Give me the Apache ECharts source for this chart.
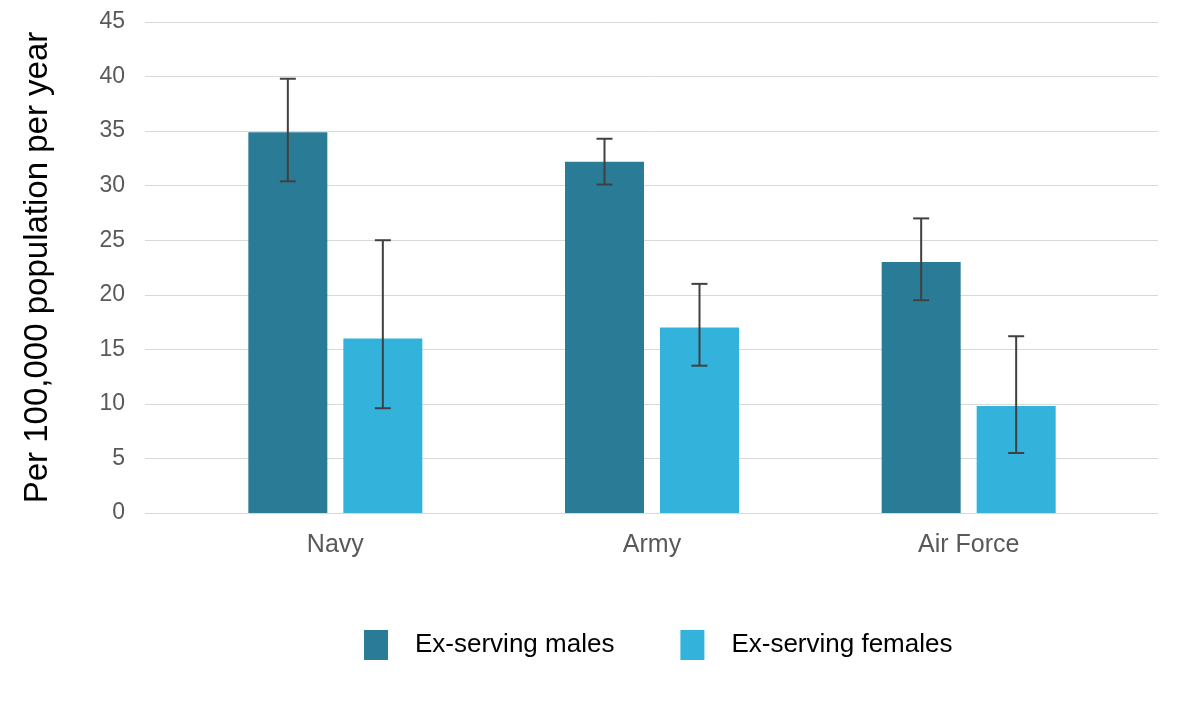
<!DOCTYPE html>
<html>
<head>
<meta charset="utf-8">
<script src="https://cdn.jsdelivr.net/npm/echarts@6/dist/echarts.min.js"></script>
<style>
  html, body { margin: 0; padding: 0; background: #fff; }
  #chart { width: 1181px; height: 708px; }
</style>
</head>
<body>
<div id="chart"></div>
<script>
const categories = ['Navy', 'Army', 'Air Force'];
const males = [34.9, 32.2, 23.0];
const malesLow = [30.4, 30.1, 19.5];
const malesHigh = [39.8, 34.3, 27.0];
const females = [16.0, 17.0, 9.8];
const femalesLow = [9.6, 13.5, 5.5];
const femalesHigh = [25.0, 21.0, 16.2];

const BAR_W = 79;
const BAR_GAP = 16;
const font = '"Liberation Sans", Arial, sans-serif';

// error bars drawn on the bars' own axes, shifted to the bar centre
function errorSeries(name, low, high, offset) {
  return {
    type: 'custom',
    name: name,
    xAxisIndex: 1,
    yAxisIndex: 1,
    z: 5,
    silent: true,
    data: categories.map((c, i) => [i, low[i], high[i]]),
    renderItem: function (params, api) {
      const lo = api.coord([api.value(0), api.value(1)]);
      const hi = api.coord([api.value(0), api.value(2)]);
      const x = lo[0] + offset;
      const cap = 8;
      const style = { stroke: '#404040', lineWidth: 2 };
      return {
        type: 'group',
        children: [
          { type: 'line', shape: { x1: x, y1: hi[1], x2: x, y2: lo[1] }, style: style },
          { type: 'line', shape: { x1: x - cap, y1: hi[1], x2: x + cap, y2: hi[1] }, style: style },
          { type: 'line', shape: { x1: x - cap, y1: lo[1], x2: x + cap, y2: lo[1] }, style: style }
        ]
      };
    }
  };
}

const chart = echarts.init(document.getElementById('chart'));
const shift = (BAR_W + BAR_GAP) / 2;

chart.setOption({
  backgroundColor: '#fff',
  animation: false,
  grid: [
    // background: gridlines + value labels
    { left: 145, right: 23, top: 22, bottom: 195 },
    // bars
    { left: 177, right: 54, top: 22, bottom: 195 }
  ],
  legend: {
    bottom: 43,
    left: 359,
    itemWidth: 24,
    itemHeight: 30,
    itemGap: 66,
    icon: 'rect',
    textStyle: { fontFamily: font, fontSize: 26, color: '#000', padding: [0, 0, 0, 22] },
    data: ['Ex-serving males', 'Ex-serving females']
  },
  xAxis: [
    { type: 'value', gridIndex: 0, show: false, min: 0, max: 1 },
    {
      type: 'category',
      gridIndex: 1,
      data: categories,
      axisLine: { show: false },
      axisTick: { show: false },
      axisLabel: { fontFamily: font, fontSize: 25, color: '#595959', margin: 20 }
    }
  ],
  yAxis: [
    {
      type: 'value',
      gridIndex: 0,
      min: 0,
      max: 45,
      interval: 5,
      name: 'Per 100,000 population per year',
      nameLocation: 'middle',
      nameGap: 91,
      nameTextStyle: { fontFamily: font, fontSize: 33, color: '#000' },
      axisLine: { show: false },
      axisTick: { show: false },
      axisLabel: { fontFamily: font, fontSize: 23, color: '#595959', margin: 20 },
      splitLine: { lineStyle: { color: '#d9d9d9', width: 1 } }
    },
    {
      type: 'value',
      gridIndex: 1,
      min: 0,
      max: 45,
      interval: 5,
      axisLine: { show: false },
      axisTick: { show: false },
      axisLabel: { show: false },
      splitLine: { show: false }
    }
  ],
  series: [
    {
      name: 'Ex-serving males',
      type: 'bar',
      xAxisIndex: 1,
      yAxisIndex: 1,
      barWidth: BAR_W,
      barGap: (BAR_GAP / BAR_W * 100) + '%',
      itemStyle: { color: '#2a7c96' },
      data: males
    },
    {
      name: 'Ex-serving females',
      type: 'bar',
      xAxisIndex: 1,
      yAxisIndex: 1,
      barWidth: BAR_W,
      itemStyle: { color: '#33b3dc' },
      data: females
    },
    errorSeries('males error', malesLow, malesHigh, -shift),
    errorSeries('females error', femalesLow, femalesHigh, shift)
  ]
});
</script>
</body>
</html>
